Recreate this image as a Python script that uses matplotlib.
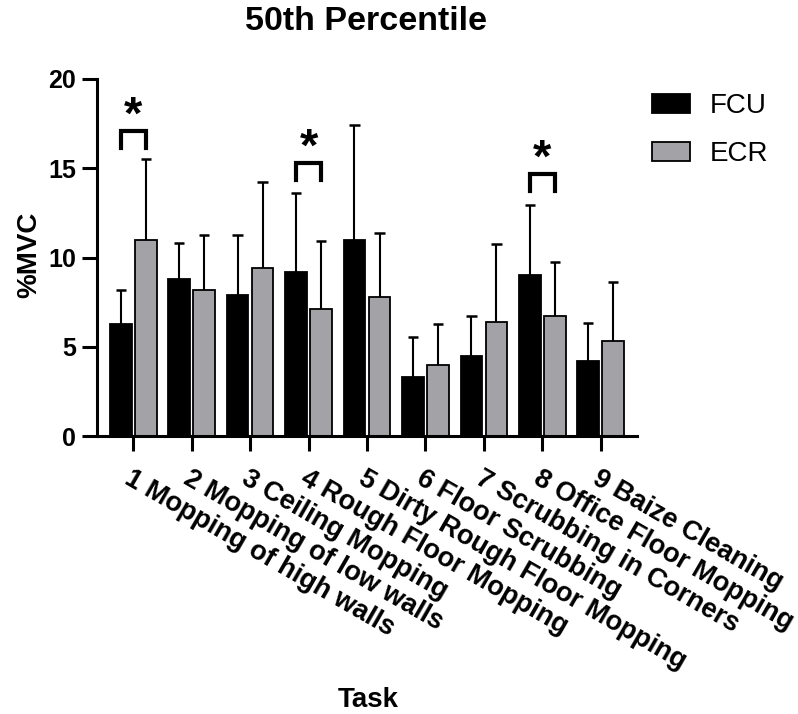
import matplotlib
matplotlib.use("Agg")
import matplotlib.pyplot as plt
from matplotlib.transforms import ScaledTranslation
import numpy as np

plt.rcParams['font.family'] = ['Liberation Sans', 'DejaVu Sans']

tasks = ["1 Mopping of high walls", "2 Mopping of low walls", "3 Ceiling Mopping",
         "4 Rough Floor Mopping", "5 Dirty Rough Floor Mopping", "6 Floor Scrubbing",
         "7 Scrubbing in Corners", "8 Office Floor Mopping", "9 Baize Cleaning"]
fcu_mean = [6.3, 8.8, 7.9, 9.2, 11.0, 3.3, 4.5, 9.0, 4.2]
fcu_sd = [1.9, 2.0, 3.35, 4.4, 6.45, 2.25, 2.25, 3.95, 2.15]
ecr_mean = [11.0, 8.2, 9.4, 7.1, 7.8, 4.0, 6.4, 6.7, 5.3]
ecr_sd = [4.5, 3.05, 4.85, 3.8, 3.6, 2.25, 4.35, 3.05, 3.35]
series_names = ["FCU", "ECR"]
sig_tasks = [0, 3, 7]
sig_heights = [17.1, 15.3, 14.7]
yticks = [0, 5, 10, 15, 20]

fig = plt.figure(figsize=(7.98, 7.14), dpi=100)
ax = fig.add_axes([97/798, 1-436/714, (637-97)/798, (436-79)/714])

x = np.arange(len(tasks))
off = 0.214
w = 0.368
colors = ["#000000", "#A3A2A6"]
for i, (m, s) in enumerate([(fcu_mean, fcu_sd), (ecr_mean, ecr_sd)]):
    xs = x + (-off if i == 0 else off)
    m = np.array(m); s = np.array(s)
    ax.vlines(xs, m, m + s, color='black', lw=1.5, zorder=1)
    ax.hlines(m + s, xs - 0.09, xs + 0.09, color='black', lw=1.8, zorder=1)
    ax.bar(xs, m, width=w, color=colors[i], edgecolor='black', linewidth=1.3,
           label=series_names[i], zorder=2)

for t, h in zip(sig_tasks, sig_heights):
    ax.plot([t - off, t - off, t + off, t + off], [h - 0.95, h, h, h - 0.95],
            color='black', lw=3, solid_joinstyle='miter', zorder=3)
    ax.text(t, h + 0.1, "*", ha='center', va='baseline', fontsize=34,
            fontweight='bold')

ax.set_xlim(-0.621, 8.621)
ax.set_ylim(0, 20)
ax.set_yticks(yticks)
ax.set_xticks(x)
ax.set_xticklabels(tasks, rotation=-30, ha='left', va='top', rotation_mode='anchor',
                   fontsize=19.5, fontweight='bold')
shift = ScaledTranslation(3/100, 0, fig.dpi_scale_trans)
for lab in ax.get_xticklabels():
    lab.set_transform(lab.get_transform() + shift)
for lab in ax.get_yticklabels():
    lab.set_fontsize(18)
    lab.set_fontweight('bold')
ax.tick_params(axis='both', width=2.2, length=11, color='black')
ax.tick_params(axis='x', pad=10)
ax.tick_params(axis='y', pad=4)
for sp in ['top', 'right']:
    ax.spines[sp].set_visible(False)
for sp in ['left', 'bottom']:
    ax.spines[sp].set_linewidth(2.2)
    ax.spines[sp].set_zorder(4)

fig.text(29/798, 1-255/714, "%MVC", ha='center', va='center', rotation=90,
         fontsize=20, fontweight='bold')
fig.text(368/798, 1-700/714, "Task", ha='center', va='center', fontsize=20,
         fontweight='bold')
fig.text(366/798, 1-22/714, "50th Percentile", ha='center', va='center', fontsize=24.5,
         fontweight='bold')

leg = fig.legend(loc='upper left', bbox_to_anchor=(641/798, 1-82/714), frameon=False,
                 fontsize=20, handlelength=1.37, handleheight=0.65, labelspacing=0.8,
                 handletextpad=0.72, borderaxespad=0)

fig.savefig("out.png", dpi=100)
